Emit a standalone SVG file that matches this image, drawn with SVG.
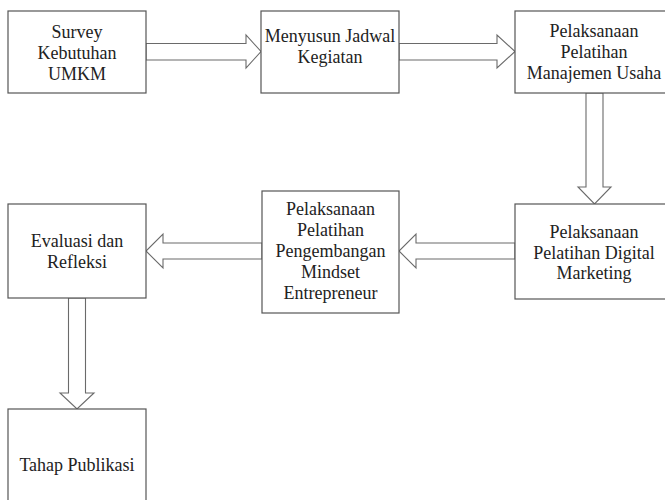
<svg xmlns="http://www.w3.org/2000/svg" width="665" height="500" viewBox="0 0 665 500">
<style>
.box{fill:#ffffff;stroke:#555555;stroke-width:1.2}
.arr{fill:#ffffff;stroke:#6a6a6a;stroke-width:1.1;stroke-linejoin:miter}
text{font-family:'Liberation Serif','Times New Roman',Times,serif;font-size:18px;fill:#222222;text-anchor:middle}
</style>
<rect width="665" height="500" fill="#ffffff"/>
<g id="connectors">
<polygon class="arr" points="146,43.5 246,43.5 246,35 261,51.5 246,68 246,60 146,60"/>
<polygon class="arr" points="399,43.5 497,43.5 497,35 515,51.5 497,68 497,60 399,60"/>
<polygon class="arr" points="586,93 603,93 603,187 611,187 594.5,204 578,187 586,187"/>
<polygon class="arr" points="515,243 416,243 416,234 399,251 416,268 416,259 515,259"/>
<polygon class="arr" points="262,243 163,243 163,234 146,251 163,268 163,259 262,259"/>
<polygon class="arr" points="68.5,298 85.5,298 85.5,393 94,393 77,409 60,393 68.5,393"/>
</g>
<g font-family="Liberation Serif, Times New Roman, serif">
<g id="survey">
<rect class="box" x="8" y="11" width="138" height="82"/>
<text x="77" y="38">Survey</text>
<text x="77" y="59">Kebutuhan</text>
<text x="77" y="80">UMKM</text>
</g>
<g id="jadwal">
<rect class="box" x="261" y="11" width="138" height="82"/>
<text x="330" y="42">Menyusun Jadwal</text>
<text x="330" y="63">Kegiatan</text>
</g>
<g id="manajemen">
<rect class="box" x="515" y="11" width="159" height="82"/>
<text x="594" y="37">Pelaksanaan</text>
<text x="594" y="58">Pelatihan</text>
<text x="594" y="79">Manajemen Usaha</text>
</g>
<g id="digital">
<rect class="box" x="515" y="204" width="159" height="95"/>
<text x="594" y="238">Pelaksanaan</text>
<text x="594" y="259">Pelatihan Digital</text>
<text x="594" y="279">Marketing</text>
</g>
<g id="mindset">
<rect class="box" x="262" y="191" width="137" height="122"/>
<text x="330.5" y="215">Pelaksanaan</text>
<text x="330.5" y="236">Pelatihan</text>
<text x="330.5" y="257">Pengembangan</text>
<text x="330.5" y="278">Mindset</text>
<text x="330.5" y="299">Entrepreneur</text>
</g>
<g id="evaluasi">
<rect class="box" x="8" y="204" width="138" height="94"/>
<text x="77" y="247">Evaluasi dan</text>
<text x="77" y="268">Refleksi</text>
</g>
<g id="publikasi">
<rect class="box" x="8" y="409" width="138" height="100"/>
<text x="77" y="471">Tahap Publikasi</text>
</g>
</g>
</svg>
